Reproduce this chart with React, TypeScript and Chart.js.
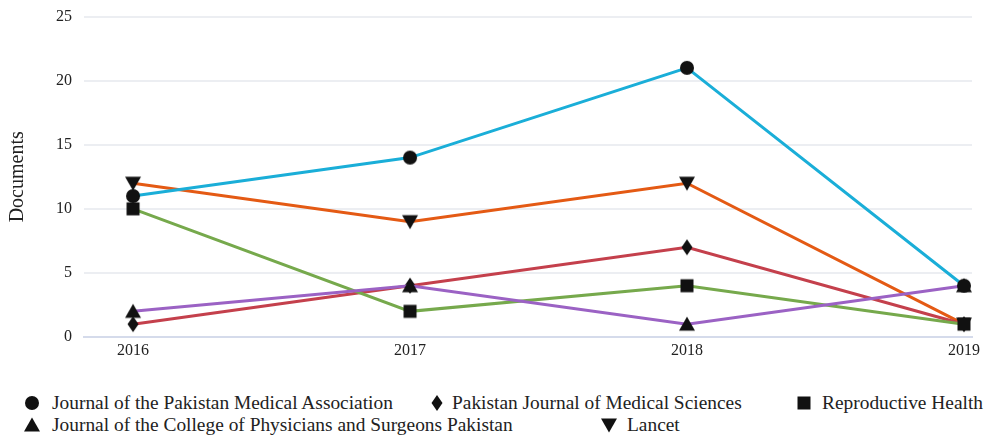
import React, { useEffect, useRef } from "react";
import { Chart, registerables } from "chart.js";

Chart.register(...registerables);

const years = [2016, 2017, 2018, 2019];
const yTicks = [0, 5, 10, 15, 20, 25];
const jpma = [11, 14, 21, 4];
const pjms = [1, 4, 7, 1];
const reproHealth = [10, 2, 4, 1];
const jcpsp = [2, 4, 1, 4];
const lancet = [12, 9, 12, 1];

const seriesNames = [
  "Journal of the Pakistan Medical Association",
  "Pakistan Journal of Medical Sciences",
  "Reproductive Health",
  "Journal of the College of Physicians and Surgeons Pakistan",
  "Lancet",
];

const FONT = "'Liberation Serif', 'Times New Roman', serif";

type Shape = "circle" | "diamond" | "square" | "triangle" | "down";

function drawShape(ctx: CanvasRenderingContext2D, shape: Shape, cx: number, cy: number) {
  ctx.fillStyle = "#111";
  ctx.beginPath();
  if (shape === "circle") {
    ctx.arc(cx, cy, 7, 0, Math.PI * 2);
  } else if (shape === "diamond") {
    ctx.moveTo(cx, cy - 8);
    ctx.lineTo(cx + 5.5, cy);
    ctx.lineTo(cx, cy + 8);
    ctx.lineTo(cx - 5.5, cy);
    ctx.closePath();
  } else if (shape === "square") {
    ctx.rect(cx - 6.5, cy - 6.5, 13, 13);
  } else if (shape === "triangle") {
    ctx.moveTo(cx, cy - 7.5);
    ctx.lineTo(cx + 8, cy + 6.5);
    ctx.lineTo(cx - 8, cy + 6.5);
    ctx.closePath();
  } else {
    ctx.moveTo(cx - 8, cy - 6.5);
    ctx.lineTo(cx + 8, cy - 6.5);
    ctx.lineTo(cx, cy + 7.5);
    ctx.closePath();
  }
  ctx.fill();
}

function makeMarker(shape: Shape): HTMLCanvasElement {
  const c = document.createElement("canvas");
  c.width = 20;
  c.height = 20;
  const ctx = c.getContext("2d")!;
  drawShape(ctx, shape, 10, 10);
  return c;
}

function LegendMarker({ shape }: { shape: Shape }) {
  const ref = useRef<HTMLCanvasElement>(null);
  useEffect(() => {
    const c = ref.current!;
    const ctx = c.getContext("2d")!;
    ctx.clearRect(0, 0, 20, 20);
    drawShape(ctx, shape, 10, 10);
  }, [shape]);
  return <canvas ref={ref} width={20} height={20} style={{ display: "block" }} />;
}

const legendItems: { name: string; shape: Shape; mx: number; tx: number; y: number }[] = [
  { name: seriesNames[0], shape: "circle", mx: 32, tx: 52, y: 403 },
  { name: seriesNames[1], shape: "diamond", mx: 437, tx: 452, y: 403 },
  { name: seriesNames[2], shape: "square", mx: 804, tx: 822, y: 403 },
  { name: seriesNames[3], shape: "triangle", mx: 32, tx: 52, y: 425 },
  { name: seriesNames[4], shape: "down", mx: 609, tx: 627, y: 425 },
];

export default function App() {
  const canvasRef = useRef<HTMLCanvasElement>(null);

  useEffect(() => {
    document.body.style.margin = "0";
    const markers = {
      circle: makeMarker("circle"),
      diamond: makeMarker("diamond"),
      square: makeMarker("square"),
      triangle: makeMarker("triangle"),
      down: makeMarker("down"),
    };
    const toPts = (arr: number[]) => arr.map((v, i) => ({ x: years[i], y: v }));
    const mk = (label: string, data: number[], color: string, marker: HTMLCanvasElement) => ({
      label,
      data: toPts(data),
      borderColor: color,
      backgroundColor: color,
      borderWidth: 3,
      pointStyle: marker,
      pointRadius: 8,
      tension: 0,
    });
    const chart = new Chart(canvasRef.current!, {
      type: "line",
      data: {
        datasets: [
          mk(seriesNames[0], jpma, "#1aaed8", markers.circle),
          mk(seriesNames[3], jcpsp, "#9b62c4", markers.triangle),
          mk(seriesNames[2], reproHealth, "#76a94c", markers.square),
          mk(seriesNames[1], pjms, "#c4404c", markers.diamond),
          mk(seriesNames[4], lancet, "#e45a14", markers.down),
        ],
      },
      options: {
        animation: false,
        responsive: false,
        maintainAspectRatio: false,
        layout: { padding: { top: 10, right: 14, left: 0, bottom: 0 } },
        plugins: {
          legend: { display: false },
          tooltip: { enabled: false },
        },
        scales: {
          x: {
            type: "linear",
            min: 2015.823,
            max: 2019.029,
            afterBuildTicks: (scale: any) => {
              scale.ticks = years.map((v) => ({ value: v }));
            },
            afterFit: (scale: any) => {
              scale.height = 33;
            },
            ticks: {
              callback: (v: any) => String(v),
              font: { family: FONT, size: 16 },
              color: "#222",
              padding: 4,
              maxRotation: 0,
              autoSkip: false,
            },
            grid: { display: false, drawTicks: false },
            border: { display: true, color: "#d5dbeb", width: 2 },
          },
          y: {
            min: 0,
            max: 25,
            afterBuildTicks: (scale: any) => {
              scale.ticks = yTicks.map((v) => ({ value: v }));
            },
            afterFit: (scale: any) => {
              scale.width = 84;
            },
            ticks: {
              font: { family: FONT, size: 16 },
              color: "#222",
              padding: 12,
            },
            grid: {
              drawTicks: false,
              lineWidth: 2,
              color: (ctx: any) => (ctx.tick && ctx.tick.value === 0 ? "#d5dbeb" : "#eceef2"),
            },
            border: { display: false },
            title: {
              display: true,
              text: "Documents",
              font: { family: FONT, size: 20 },
              color: "#222",
              padding: { top: 6, bottom: 0 },
            },
          },
        },
      },
    });
    return () => chart.destroy();
  }, []);

  return (
    <div style={{ position: "relative", width: 986, height: 437, background: "#fff", fontFamily: FONT, overflow: "hidden" }}>
      <canvas ref={canvasRef} width={986} height={375} style={{ position: "absolute", left: 0, top: -5 }} />
      {legendItems.map((it, i) => (
        <React.Fragment key={i}>
          <div style={{ position: "absolute", left: it.mx - 10, top: it.y - 10 }}>
            <LegendMarker shape={it.shape} />
          </div>
          <div
            style={{
              position: "absolute",
              left: it.tx,
              top: it.y - 12,
              fontSize: 19.4,
              lineHeight: "24px",
              color: "#222",
              whiteSpace: "nowrap",
            }}
          >
            {it.name}
          </div>
        </React.Fragment>
      ))}
    </div>
  );
}
